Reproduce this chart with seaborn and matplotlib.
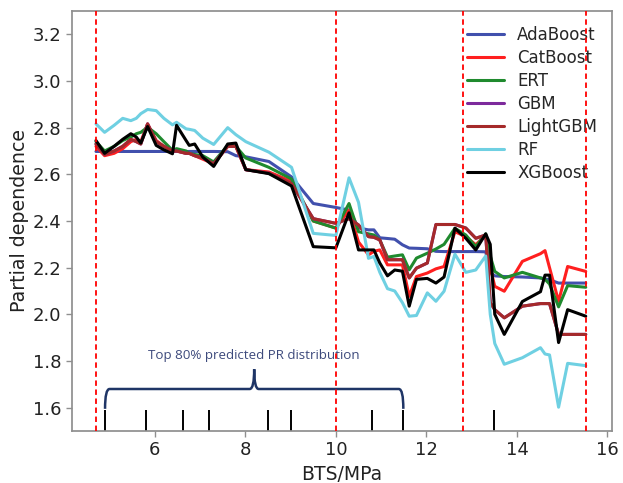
import numpy as np
import pandas as pd
import matplotlib
matplotlib.use("Agg")
import matplotlib.pyplot as plt
from matplotlib.path import Path
from matplotlib.patches import PathPatch
import seaborn as sns

# Grid of BTS values (MPa) at which partial dependence was evaluated
bts_grid = [4.70, 4.89, 5.10, 5.29, 5.47, 5.59, 5.69, 5.84, 6.03, 6.20,
            6.39, 6.48, 6.69, 6.76, 6.88, 7.06, 7.30, 7.61, 7.79, 8.01,
            8.52, 9.02, 9.50, 10.00, 10.29, 10.50, 10.72, 10.84, 10.97, 11.14,
            11.30, 11.47, 11.62, 11.78, 12.02, 12.21, 12.39, 12.63, 12.87, 13.09,
            13.31, 13.41, 13.51, 13.72, 14.12, 14.52, 14.62, 14.72, 14.92, 15.12,
            15.52]

adaboost = [2.698, 2.698, 2.698, 2.698, 2.698, 2.698, 2.698, 2.698, 2.698, 2.698,
            2.698, 2.698, 2.698, 2.698, 2.698, 2.698, 2.698, 2.697, 2.680, 2.675,
            2.655, 2.589, 2.475, 2.458, 2.447, 2.370, 2.362, 2.362, 2.328, 2.325,
            2.322, 2.298, 2.284, 2.283, 2.281, 2.270, 2.269, 2.269, 2.269, 2.269,
            2.268, 2.180, 2.165, 2.162, 2.160, 2.156, 2.152, 2.148, 2.134, 2.134,
            2.134]

catboost = [2.720, 2.680, 2.690, 2.710, 2.740, 2.750, 2.740, 2.816, 2.745, 2.720,
            2.700, 2.700, 2.690, 2.690, 2.680, 2.665, 2.645, 2.720, 2.720, 2.620,
            2.610, 2.570, 2.400, 2.370, 2.447, 2.310, 2.255, 2.270, 2.276, 2.212,
            2.212, 2.212, 2.077, 2.162, 2.177, 2.195, 2.205, 2.354, 2.333, 2.298,
            2.340, 2.200, 2.120, 2.099, 2.227, 2.260, 2.273, 2.200, 2.056, 2.205,
            2.184]

ert = [2.740, 2.700, 2.720, 2.745, 2.760, 2.774, 2.780, 2.802, 2.774, 2.740,
       2.703, 2.710, 2.700, 2.690, 2.685, 2.680, 2.653, 2.724, 2.720, 2.670,
       2.630, 2.580, 2.400, 2.369, 2.475, 2.354, 2.345, 2.340, 2.319, 2.245,
       2.250, 2.255, 2.191, 2.241, 2.262, 2.280, 2.300, 2.369, 2.340, 2.290,
       2.345, 2.250, 2.184, 2.156, 2.180, 2.156, 2.150, 2.130, 2.032, 2.123,
       2.116]

gbm = [2.730, 2.685, 2.700, 2.720, 2.750, 2.740, 2.730, 2.816, 2.740, 2.720,
       2.700, 2.700, 2.690, 2.690, 2.680, 2.670, 2.645, 2.720, 2.720, 2.620,
       2.605, 2.560, 2.410, 2.390, 2.410, 2.383, 2.333, 2.330, 2.319, 2.234,
       2.234, 2.234, 2.156, 2.198, 2.220, 2.385, 2.385, 2.385, 2.370, 2.326,
       2.340, 2.050, 2.020, 1.985, 2.035, 2.046, 2.046, 2.046, 1.914, 1.914,
       1.914]

lightgbm = [2.730, 2.685, 2.700, 2.720, 2.750, 2.740, 2.730, 2.816, 2.740, 2.720,
            2.700, 2.700, 2.690, 2.690, 2.680, 2.670, 2.645, 2.720, 2.720, 2.620,
            2.605, 2.560, 2.410, 2.390, 2.410, 2.383, 2.333, 2.330, 2.319, 2.234,
            2.234, 2.234, 2.156, 2.198, 2.220, 2.385, 2.385, 2.385, 2.370, 2.326,
            2.340, 2.050, 2.020, 1.985, 2.035, 2.046, 2.046, 2.046, 1.914, 1.914,
            1.914]

rf = [2.816, 2.780, 2.810, 2.840, 2.830, 2.840, 2.860, 2.878, 2.873, 2.840,
      2.812, 2.823, 2.795, 2.793, 2.788, 2.755, 2.728, 2.800, 2.770, 2.740,
      2.695, 2.630, 2.347, 2.338, 2.585, 2.480, 2.240, 2.248, 2.180, 2.110,
      2.100, 2.050, 1.992, 1.995, 2.092, 2.056, 2.099, 2.258, 2.180, 2.190,
      2.250, 2.000, 1.875, 1.786, 1.814, 1.857, 1.830, 1.826, 1.602, 1.790,
      1.780]

xgboost = [2.745, 2.690, 2.720, 2.750, 2.774, 2.760, 2.734, 2.805, 2.724, 2.705,
           2.688, 2.810, 2.745, 2.724, 2.730, 2.674, 2.634, 2.730, 2.734, 2.620,
           2.603, 2.550, 2.290, 2.285, 2.435, 2.276, 2.276, 2.276, 2.220, 2.165,
           2.190, 2.185, 2.035, 2.150, 2.154, 2.134, 2.160, 2.369, 2.326, 2.276,
           2.345, 2.300, 2.000, 1.914, 2.055, 2.097, 2.168, 2.168, 1.879, 2.020,
           1.992]

models = ["AdaBoost", "CatBoost", "ERT", "GBM", "LightGBM", "RF", "XGBoost"]
colors = ["#4150ad", "#ff1f1f", "#1f8a2e", "#7d2a9c", "#a52a2a", "#6fd0e2", "#000000"]

# Deciles of the BTS feature and reference markers
deciles = [4.90, 5.80, 6.62, 7.20, 8.51, 9.01, 10.79, 11.49, 13.50]
ref_lines = [4.70, 10.00, 12.80, 15.52]
brace_text = "Top 80% predicted PR distribution"

series = [adaboost, catboost, ert, gbm, lightgbm, rf, xgboost]
df = pd.concat(
    [pd.DataFrame({"BTS": bts_grid, "pd": vals, "model": name})
     for name, vals in zip(models, series)],
    ignore_index=True,
)

sns.set_theme(style="ticks")
plt.rcParams["font.family"] = ["DejaVu Sans"]
plt.rcParams["axes.edgecolor"] = "#8f8f8f"
plt.rcParams["xtick.color"] = "#8f8f8f"
plt.rcParams["ytick.color"] = "#8f8f8f"
plt.rcParams["xtick.labelcolor"] = "#222222"
plt.rcParams["ytick.labelcolor"] = "#222222"

fig = plt.figure(figsize=(6.23, 4.83), dpi=100)
ax = fig.add_axes([72 / 623, 1 - 431 / 483, 540 / 623, 420 / 483])

sns.lineplot(data=df, x="BTS", y="pd", hue="model", hue_order=models,
             palette=dict(zip(models, colors)), linewidth=2.2, sort=True,
             estimator=None, ax=ax)

for xv in ref_lines:
    ax.axvline(xv, color="red", linestyle=(0, (3, 2)), linewidth=1.3, zorder=6)

ax.vlines(deciles, 0, 0.05, transform=ax.get_xaxis_transform(),
          color="black", linewidth=1.4)

# Curly brace spanning the 10%-90% decile range
x0, x1 = deciles[0], deciles[7]
xm = 0.5 * (x0 + x1)
yb, yh, yp = 1.595, 1.68, 1.765
rx = 0.10
verts = [(x0, yb), (x0, yh), (x0 + rx, yh), (xm - rx, yh),
         (xm, yh), (xm, yp), (xm, yh), (xm + rx, yh),
         (x1 - rx, yh), (x1, yh), (x1, yb)]
codes = [Path.MOVETO, Path.CURVE3, Path.CURVE3, Path.LINETO,
         Path.CURVE3, Path.CURVE3, Path.CURVE3, Path.CURVE3,
         Path.LINETO, Path.CURVE3, Path.CURVE3]
ax.add_patch(PathPatch(Path(verts, codes), facecolor="none",
                       edgecolor="#1f3566", linewidth=1.8, zorder=4))
ax.text(xm, 1.825, brace_text, ha="center", va="center", fontsize=9.6,
        color="#3d4a7c", family=["Open Sans", "DejaVu Sans"])

ax.set_xlim(4.17, 16.1)
ax.set_ylim(1.5, 3.3)
ax.set_xticks([6, 8, 10, 12, 14, 16])
ax.set_yticks([1.6, 1.8, 2.0, 2.2, 2.4, 2.6, 2.8, 3.0, 3.2])
ax.tick_params(labelsize=13, length=4, width=1)
ax.set_xlabel("BTS/MPa", fontsize=13.5, color="#222222")
ax.set_ylabel("Partial dependence", fontsize=13.7, color="#222222", labelpad=3)

handles, labels = ax.get_legend_handles_labels()
ax.legend(handles, labels, loc="upper right", frameon=False, fontsize=12,
          labelspacing=0.3, handlelength=2.2)

fig.savefig("out.png", dpi=100)
